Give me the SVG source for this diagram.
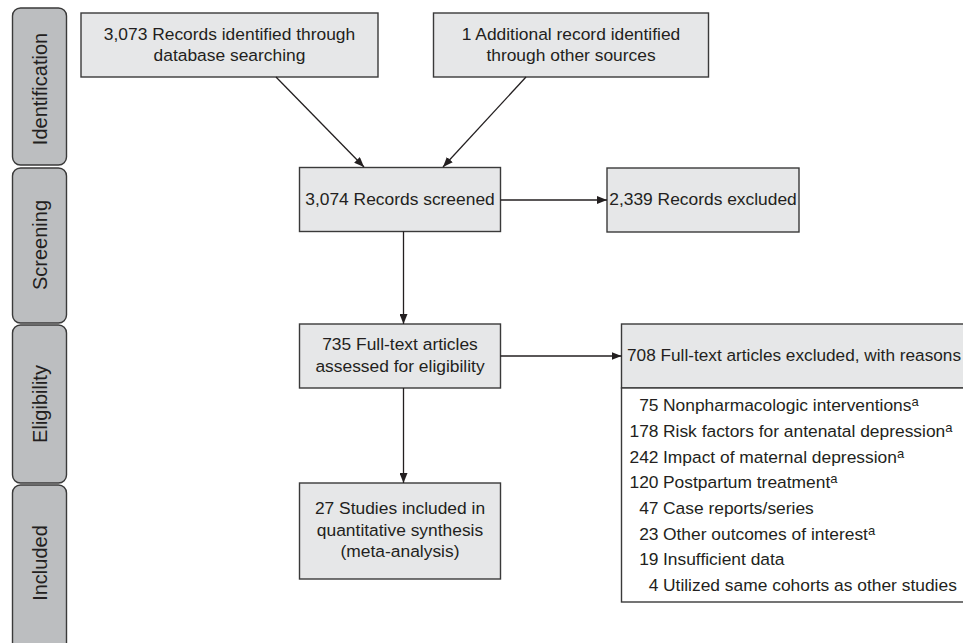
<svg xmlns="http://www.w3.org/2000/svg" width="963" height="643" viewBox="0 0 963 643">
<style>
text{font-family:"Liberation Sans",Arial,sans-serif;fill:#231f20;font-size:17.4px}
.box{fill:#e6e7e8;stroke:#3a3a3a;stroke-width:1.4}
.wbox{fill:#ffffff;stroke:#3a3a3a;stroke-width:1.4}
.side{fill:#bcbec0;stroke:#3a3a3a;stroke-width:1.4}
.st{font-size:20px;text-anchor:middle}
.c{text-anchor:middle}
.n{text-anchor:end}
.sup{font-size:13px}
.conn line{stroke:#231f20;stroke-width:1.3;fill:none}
</style>
<defs>
<marker id="ah" viewBox="0 0 10 8" refX="10" refY="4" markerWidth="10" markerHeight="8" markerUnits="userSpaceOnUse" orient="auto">
<path d="M0,0 L10,4 L0,8 Z" fill="#231f20"/>
</marker>
</defs>
<g id="stage-identification">
<rect class="side" x="12.5" y="8" width="54" height="157" rx="8"/>
<text class="st" transform="translate(46.5,89) rotate(-90)">Identification</text>
</g>
<g id="stage-screening">
<rect class="side" x="12.5" y="168" width="54" height="155" rx="8"/>
<text class="st" transform="translate(46.5,245) rotate(-90)">Screening</text>
</g>
<g id="stage-eligibility">
<rect class="side" x="12.5" y="325" width="54" height="158" rx="8"/>
<text class="st" transform="translate(46.5,404) rotate(-90)">Eligibility</text>
</g>
<g id="stage-included">
<rect class="side" x="12.5" y="485" width="54" height="170" rx="8"/>
<text class="st" transform="translate(46.5,563) rotate(-90)">Included</text>
</g>
<g id="n-database">
<rect class="box" x="81" y="13" width="297" height="64"/>
<text class="c" x="229.5" y="40">3,073 Records identified through</text>
<text class="c" x="229.5" y="61">database searching</text>
</g>
<g id="n-other">
<rect class="box" x="433.5" y="13" width="275" height="64"/>
<text class="c" x="571" y="40">1 Additional record identified</text>
<text class="c" x="571" y="61">through other sources</text>
</g>
<g id="n-screened">
<rect class="box" x="299.5" y="167.5" width="201" height="64"/>
<text class="c" x="400" y="205">3,074 Records screened</text>
</g>
<g id="n-excluded">
<rect class="box" x="607" y="168" width="192" height="64"/>
<text class="c" x="703" y="205">2,339 Records excluded</text>
</g>
<g id="n-fulltext">
<rect class="box" x="299.5" y="324" width="201" height="64"/>
<text class="c" x="400" y="350">735 Full-text articles</text>
<text class="c" x="400" y="372">assessed for eligibility</text>
</g>
<g id="n-included">
<rect class="box" x="299.5" y="483" width="201" height="96"/>
<text class="c" x="400" y="514">27 Studies included in</text>
<text class="c" x="400" y="536">quantitative synthesis</text>
<text class="c" x="400" y="557">(meta-analysis)</text>
</g>
<g id="n-reasons">
<rect class="box" x="621.5" y="324" width="360" height="64"/>
<rect class="wbox" x="621.5" y="388" width="360" height="214"/>
<text x="627" y="361" textLength="334" lengthAdjust="spacingAndGlyphs">708 Full-text articles excluded, with reasons</text>
<text class="n" x="658.5" y="411">75</text><text x="663" y="411">Nonpharmacologic interventions<tspan class="sup" dy="-5">a</tspan></text>
<text class="n" x="658.5" y="437">178</text><text x="663" y="437">Risk factors for antenatal depression<tspan class="sup" dy="-5">a</tspan></text>
<text class="n" x="658.5" y="463">242</text><text x="663" y="463">Impact of maternal depression<tspan class="sup" dy="-5">a</tspan></text>
<text class="n" x="658.5" y="488">120</text><text x="663" y="488">Postpartum treatment<tspan class="sup" dy="-5">a</tspan></text>
<text class="n" x="658.5" y="514">47</text><text x="663" y="514">Case reports/series</text>
<text class="n" x="658.5" y="540">23</text><text x="663" y="540">Other outcomes of interest<tspan class="sup" dy="-5">a</tspan></text>
<text class="n" x="658.5" y="565">19</text><text x="663" y="565">Insufficient data</text>
<text class="n" x="658.5" y="591">4</text><text x="663" y="591">Utilized same cohorts as other studies</text>
</g>
<g class="conn" id="connectors">
<line x1="276" y1="77" x2="364" y2="167" marker-end="url(#ah)"/>
<line x1="526" y1="77" x2="443" y2="167" marker-end="url(#ah)"/>
<line x1="500.5" y1="200" x2="607" y2="200" marker-end="url(#ah)"/>
<line x1="403.5" y1="231.5" x2="403.5" y2="324" marker-end="url(#ah)"/>
<line x1="403.5" y1="388" x2="403.5" y2="483" marker-end="url(#ah)"/>
<line x1="500.5" y1="356" x2="621.5" y2="356" marker-end="url(#ah)"/>
</g>
</svg>
